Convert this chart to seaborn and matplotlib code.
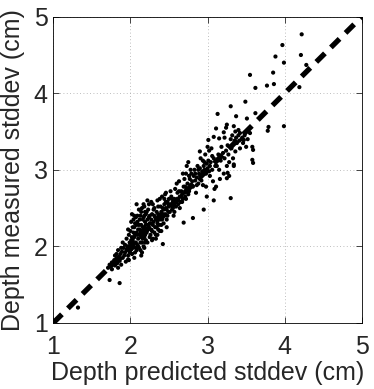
import numpy as np
import pandas as pd
import matplotlib
matplotlib.use("Agg")
import matplotlib.pyplot as plt
import seaborn as sns

pred_sparse = [4.22, 3.97, 4.21, 3.88, 3.99, 4.28, 3.55, 3.85, 3.62, 3.77, 3.86, 4.19,
               3.49, 3.30, 3.62, 3.13, 3.37, 3.51, 3.79, 3.78, 3.99, 3.11, 3.21, 3.34,
               3.25, 3.59, 3.58, 3.59, 3.30, 3.08, 2.95, 2.81, 2.69, 2.42, 1.97, 1.86,
               1.73, 1.32, 2.90, 3.01, 3.08, 3.15, 2.99, 3.11, 3.25, 3.26, 3.34, 3.36,
               3.47, 3.42]
meas_sparse = [4.77, 4.63, 4.50, 4.48, 4.40, 4.37, 4.24, 4.27, 4.07, 4.10, 4.12, 4.08,
               3.89, 3.83, 3.74, 3.73, 3.70, 3.67, 3.56, 3.51, 3.57, 3.54, 3.49, 3.57,
               3.59, 3.26, 3.13, 3.09, 2.63, 2.60, 2.48, 2.37, 2.31, 2.03, 1.83, 1.52,
               1.56, 1.20, 3.24, 3.39, 3.43, 3.41, 2.65, 2.78, 2.89, 2.96, 3.07, 3.24,
               3.39, 3.28]

# dense core of the cloud
core = [
    (1.71,1.72),(1.73,1.76),(1.75,1.74),(1.76,1.79),(1.78,1.77),(1.79,1.82),(1.80,1.75),(1.81,1.80),
    (1.82,1.84),(1.83,1.78),(1.84,1.72),(1.85,1.86),(1.86,1.81),(1.87,1.90),(1.88,1.76),(1.89,1.93),
    (1.90,1.85),(1.91,1.98),(1.92,1.88),(1.93,2.02),(1.94,1.80),(1.95,1.95),(1.76,1.70),(1.80,1.88),
    (1.84,1.95),(1.87,1.84),(1.90,2.05),(1.93,1.92),(1.95,2.10),(1.88,1.98),(1.82,1.90),
    (1.96,2.00),(1.97,1.88),(1.98,2.15),(1.99,2.05),(2.00,1.95),(2.00,2.20),(2.01,2.08),(2.02,1.90),
    (2.03,2.25),(2.04,2.00),(2.05,2.12),(2.05,1.85),(2.06,2.30),(2.07,2.05),(2.08,2.18),(2.08,1.95),
    (2.09,2.40),(2.10,2.10),(2.10,2.22),(2.11,1.98),(2.12,2.35),(2.12,2.15),(2.13,2.05),(2.14,2.28),
    (2.14,2.45),(2.15,1.92),(2.15,2.20),(2.16,2.10),(2.17,2.38),(2.17,2.00),(2.18,2.25),(2.18,2.52),
    (2.19,2.15),(2.19,2.32),(2.20,2.08),(2.20,2.42),(1.97,2.22),(1.99,1.92),(2.01,2.32),(2.03,1.98),
    (2.04,2.18),(2.06,1.92),(2.07,2.38),(2.09,2.02),(2.11,2.28),(2.13,1.95),(2.15,2.50),(2.16,2.35),
    (2.18,1.98),(2.20,2.28),(2.02,2.12),(2.04,2.35),(2.06,2.15),(2.08,2.28),(2.10,2.00),(2.12,2.22),
    (2.14,2.12),(2.16,2.25),(2.18,2.40),(2.19,2.05),(1.98,1.82),(2.00,2.02),(2.03,2.08),(2.05,2.25),
    (2.07,1.98),(2.09,2.15),(2.11,2.48),(2.13,2.18),(2.15,2.05),(2.17,2.20),(2.19,2.45),(2.01,1.96),
    (2.05,2.40),(2.09,2.32),(2.13,2.40),(2.17,2.55),(2.14,1.88),(2.18,2.12),(2.02,2.42),(2.08,2.55),
    (2.21,2.18),(2.22,2.35),(2.22,2.05),(2.23,2.48),(2.24,2.25),(2.25,2.12),(2.25,2.40),(2.26,2.30),
    (2.27,2.58),(2.28,2.20),(2.28,2.42),(2.29,2.10),(2.30,2.32),(2.31,2.50),(2.32,2.25),(2.32,2.38),
    (2.33,2.15),(2.34,2.45),(2.35,2.30),(2.35,2.60),(2.36,2.22),(2.37,2.40),(2.38,2.35),(2.39,2.52),
    (2.40,2.28),(2.40,2.45),(2.41,2.65),(2.42,2.38),(2.43,2.30),(2.44,2.55),(2.45,2.42),(2.45,2.68),
    (2.46,2.50),(2.47,2.35),(2.48,2.58),(2.49,2.45),(2.50,2.52),(2.50,2.62),(2.21,2.45),(2.23,2.28),
    (2.24,2.55),(2.26,2.15),(2.27,2.35),(2.29,2.28),(2.30,2.48),(2.31,2.18),(2.33,2.35),(2.34,2.25),
    (2.36,2.42),(2.37,2.28),(2.38,2.20),(2.39,2.40),(2.41,2.35),(2.42,2.50),(2.44,2.40),(2.46,2.58),
    (2.47,2.48),(2.48,2.40),(2.49,2.55),(2.22,2.60),(2.25,2.30),(2.28,2.08),(2.31,2.40),(2.35,2.15),
    (2.38,2.62),(2.43,2.48),(2.46,2.70),(2.29,2.55),(2.33,2.10),(2.40,2.20),(2.44,2.62),(2.24,2.38),
    (2.27,2.22),(2.36,2.52),(2.47,2.25),
    (2.51,2.45),(2.52,2.55),(2.53,2.65),(2.54,2.48),(2.55,2.58),(2.56,2.40),(2.57,2.62),(2.58,2.75),
    (2.59,2.52),(2.60,2.60),(2.61,2.70),(2.62,2.55),(2.63,2.85),(2.64,2.65),(2.65,2.58),(2.66,2.72),
    (2.67,2.68),(2.68,2.62),(2.69,2.78),(2.70,2.70),(2.70,2.88),(2.71,2.65),(2.72,2.95),(2.73,2.75),
    (2.74,2.82),(2.75,3.10),(2.76,2.72),(2.77,2.88),(2.78,2.80),(2.79,2.95),(2.80,2.85),(2.52,2.72),
    (2.55,2.50),(2.58,2.60),(2.60,2.82),(2.62,2.62),(2.64,2.50),(2.66,2.65),(2.68,2.95),(2.71,2.78),
    (2.73,3.05),(2.75,2.68),(2.78,3.00),(2.54,2.62),(2.57,2.45),(2.63,2.72),(2.67,2.58),(2.72,2.62),
    (2.76,2.92),
    (2.81,2.78),(2.82,2.92),(2.83,3.00),(2.84,2.86),(2.85,2.70),(2.86,2.90),(2.87,3.05),(2.88,2.82),
    (2.89,2.95),(2.90,2.88),(2.91,3.15),(2.92,2.92),(2.93,2.98),(2.94,2.80),(2.95,3.05),(2.96,3.00),
    (2.97,3.20),(2.98,2.95),(2.99,3.08),(3.00,3.02),(3.01,3.12),(3.02,2.98),(3.03,3.05),(3.04,3.10),
    (3.05,3.28),(3.06,3.00),(3.07,2.85),(3.08,3.15),(3.09,2.75),(3.10,3.05),(2.84,2.95),(2.88,3.00),
    (2.92,2.86),(2.96,3.10),(3.00,3.30),(3.03,2.92),(3.06,3.18),(2.86,2.80),(2.90,3.02),(2.94,3.12),
    (2.98,2.78),(3.02,3.25),
    (3.12,3.05),(3.14,3.20),(3.15,3.00),(3.17,3.12),(3.18,3.30),(3.20,3.22),(3.21,2.95),(3.22,3.15),
    (3.24,3.25),(3.25,3.05),(3.26,3.32),(3.27,3.20),(3.28,3.10),(3.30,3.40),(3.31,3.28),(3.32,3.45),
    (3.33,3.15),(3.35,3.38),(3.36,3.50),(3.37,3.42),(3.38,3.35),(3.40,3.45),(3.41,3.38),(3.42,3.48),
    (3.44,3.40),(3.45,3.42),(3.46,3.35),(3.48,3.45),(3.50,3.30),(3.52,3.40),(3.55,3.48),(3.58,3.30),
    (3.22,3.42),(3.28,2.92),(3.16,2.88),(3.34,3.05),(3.40,3.52),(3.24,3.55),
]
pred_core = [p for p, m in core]
meas_core = [m for p, m in core]

diag = [1, 5]
ticks = [1, 2, 3, 4, 5]

df = pd.DataFrame({"pred": pred_sparse + pred_core, "meas": meas_sparse + meas_core})

sns.set_style("white")
plt.rcParams["font.family"] = ["Liberation Sans", "DejaVu Sans"]

fig = plt.figure(figsize=(3.74, 3.89), dpi=100)
ax = fig.add_axes([0.1425, 0.170, 0.825, 0.787])

sns.lineplot(x=diag, y=diag, ax=ax, color="black", lw=3.8,
             dashes=False, zorder=2)
ax.lines[-1].set_dashes((2.3, 1.6))
ax.lines[-1].set_dash_capstyle("butt")
sns.scatterplot(data=df, x="pred", y="meas", ax=ax, color="black", s=9,
                edgecolor="none", zorder=3)

ax.set_xlim(1, 5)
ax.set_ylim(1, 5)
ax.set_xticks(ticks)
ax.set_yticks(ticks)
ax.grid(True, color="#a8a8a8", linestyle=(0, (1, 3)), lw=0.6)
ax.tick_params(direction="in", length=4, labelsize=18, width=0.6,
               top=True, right=True, bottom=True, left=True,
               labeltop=False, labelright=False)
ax.tick_params(axis="x", pad=9)
ax.tick_params(axis="y", pad=4)
for s in ax.spines.values():
    s.set_color("black")
    s.set_linewidth(0.6)
ax.set_xlabel("Depth predicted stddev (cm)", fontsize=18, labelpad=1)
ax.set_ylabel("Depth measured stddev (cm)", fontsize=18, labelpad=6)

fig.savefig("out.png", dpi=100)
